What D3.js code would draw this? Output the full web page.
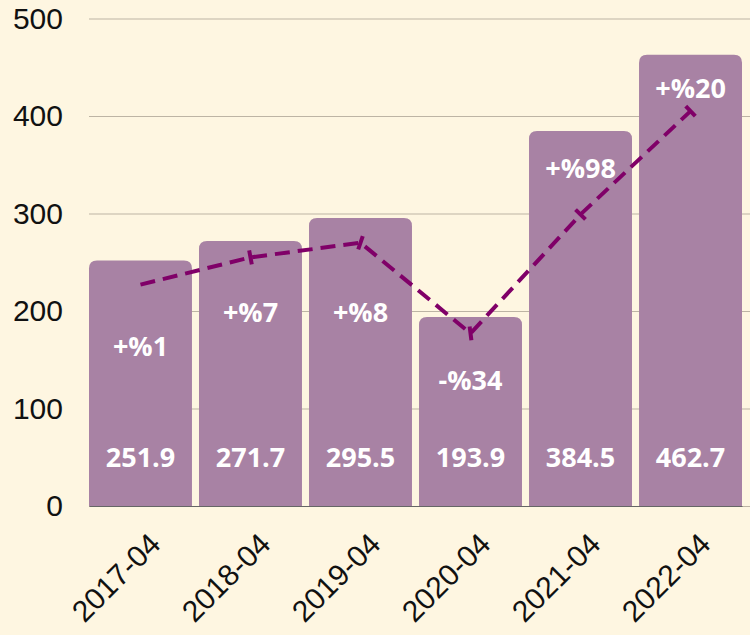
<!DOCTYPE html>
<html>
<head>
<meta charset="utf-8">
<script src="https://cdn.jsdelivr.net/npm/d3@7"></script>
<style>
  html, body { margin: 0; padding: 0; background: #FEF6E1; }
  svg { display: block; }
</style>
</head>
<body>
<div id="chart"></div>
<script>
const categories = ['2017-04', '2018-04', '2019-04', '2020-04', '2021-04', '2022-04'];
const barValues = [251.9, 271.7, 295.5, 193.9, 384.5, 462.7];
const lineValues = [227, 255, 270, 177, 299, 405];
const pctChange = [1, 7, 8, -34, 98, 20];
const yTicks = [0, 100, 200, 300, 400, 500];

const W = 750, H = 635;
const margin = { top: 18.5, right: 8, bottom: 129, left: 89 };
const w = W - margin.left - margin.right;
const h = H - margin.top - margin.bottom;

// where the % labels sit, in y units
const pctLabelAt = [165, 200, 200, 130, 347, 429];
const valueLabelAt = 51;

const svg = d3.select('#chart').append('svg').attr('width', W).attr('height', H);
svg.append('rect').attr('width', W).attr('height', H).attr('fill', '#FEF6E1');
const g = svg.append('g').attr('transform', `translate(${margin.left},${margin.top})`);

const x = d3.scaleBand().domain(categories).range([0, w]).paddingInner(0.064).paddingOuter(0);
const y = d3.scaleLinear().domain([0, 500]).range([h, 0]);

// grid
g.append('g').attr('class', 'grid')
  .call(d3.axisLeft(y).tickValues(yTicks).tickSize(-(w + margin.right)).tickFormat(() => ''))
  .call(s => s.select('.domain').remove())
  .selectAll('line').style('stroke', '#BDB4A4').style('stroke-width', 1);

// y labels
g.append('g').attr('class', 'y-axis')
  .call(d3.axisLeft(y).tickValues(yTicks).tickSize(0).tickPadding(26))
  .call(s => s.select('.domain').remove())
  .selectAll('text').style('font-family', '"Liberation Sans", Arial, sans-serif')
  .style('font-size', '30px').style('fill', '#111');

// bars with rounded tops
const r = 8;
g.selectAll('.bar').data(barValues).join('path').attr('class', 'bar')
  .attr('fill', '#A882A4')
  .attr('d', (d, i) => {
    const x0 = x(categories[i]), x1 = x0 + x.bandwidth(), yt = y(d), yb = y(0);
    return `M${x0},${yb}V${yt + r}Q${x0},${yt} ${x0 + r},${yt}H${x1 - r}Q${x1},${yt} ${x1},${yt + r}V${yb}Z`;
  });

// x axis
const xAxis = g.append('g').attr('transform', `translate(0,${h})`)
  .call(d3.axisBottom(x).tickSize(0).tickFormat(''));
xAxis.select('.domain').style('stroke', '#666').style('stroke-width', 1.2);

g.append('g').selectAll('text').data(categories).join('text')
  .attr('transform', d => `translate(${x(d) + x.bandwidth() / 2 + 7},${h + 25}) rotate(-45)`)
  .attr('text-anchor', 'end').attr('dy', '0.7em')
  .style('font-family', '"Liberation Sans", Arial, sans-serif')
  .style('font-size', '30px').style('fill', '#111')
  .text(d => d);

// dashed line
const cx = i => x(categories[i]) + x.bandwidth() / 2;
const line = d3.line().x((d, i) => cx(i)).y(d => y(d));
g.append('path').datum(lineValues)
  .attr('d', line).attr('fill', 'none')
  .attr('stroke', '#800068').attr('stroke-width', 4).attr('stroke-dasharray', '15,8');

// perpendicular tick markers
const pts = lineValues.map((d, i) => [cx(i), y(d)]);
g.append('g').selectAll('line').data(pts.slice(1)).join('line')
  .each(function (p, k) {
    const i = k + 1;
    const a = pts[i - 1], b = pts[Math.min(i + 1, pts.length - 1)];
    let dx = b[0] - a[0], dy = b[1] - a[1];
    const len = Math.hypot(dx, dy) || 1;
    dx /= len; dy /= len;
    const L = 7;
    d3.select(this)
      .attr('x1', p[0] - dy * L).attr('y1', p[1] + dx * L)
      .attr('x2', p[0] + dy * L).attr('y2', p[1] - dx * L);
  })
  .attr('stroke', '#800068').attr('stroke-width', 4);

// labels
const labelFont = '"Open Sans", "Noto Sans", sans-serif';
g.selectAll('.pct').data(pctChange).join('text').attr('class', 'pct')
  .attr('x', (d, i) => cx(i)).attr('y', (d, i) => y(pctLabelAt[i]))
  .attr('text-anchor', 'middle').attr('dominant-baseline', 'central')
  .style('font-family', labelFont).style('font-weight', 700).style('font-size', '27px').style('fill', '#fff')
  .text(d => (d >= 0 ? '+%' : '-%') + Math.abs(d));

g.selectAll('.val').data(barValues).join('text').attr('class', 'val')
  .attr('x', (d, i) => cx(i)).attr('y', y(valueLabelAt))
  .attr('text-anchor', 'middle').attr('dominant-baseline', 'central')
  .style('font-family', labelFont).style('font-weight', 700).style('font-size', '27px').style('fill', '#fff')
  .text(d => d.toFixed(1));
</script>
</body>
</html>
